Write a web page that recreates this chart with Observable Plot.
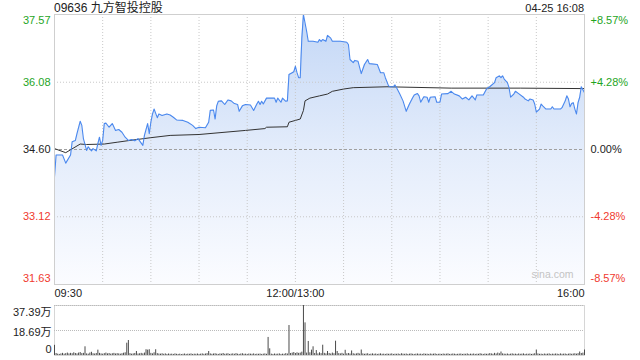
<!DOCTYPE html>
<html><head><meta charset="utf-8">
<script src="https://cdn.jsdelivr.net/npm/d3@7"></script>
<script src="https://cdn.jsdelivr.net/npm/@observablehq/plot@0.6"></script>
<style>
body{margin:0;background:#fff;font-family:"Liberation Sans",Arial,"Noto Sans CJK SC",sans-serif;}
#wrap{position:relative;width:640px;height:360px;overflow:hidden;background:#fff}
#title{position:absolute;left:54px;top:1px;font-size:12px;line-height:14px;color:#222;white-space:nowrap}
#date{position:absolute;right:56px;top:1px;font-size:11px;line-height:14px;color:#222;white-space:nowrap}
#main{position:absolute;left:0;top:0}
#vol{position:absolute;left:0;top:300px}
svg{font-family:"Liberation Sans",Arial,"Noto Sans CJK SC",sans-serif;}
</style></head>
<body>
<div id="wrap"><div id="main"></div><div id="vol"></div>
<div id="title">09636 九方智投控股</div><div id="date">04-25 16:08</div></div>
<script>
const stockTitle = "09636 九方智投控股";
const prevClose = 34.60;
const yTicks = [37.57, 36.08, 34.60, 33.12, 31.63];
const yTickLabels = ["37.57", "36.08", "34.60", "33.12", "31.63"];
const pctLabels = ["+8.57%", "+4.28%", "0.00%", "-4.28%", "-8.57%"];
const xTicks = [0, 150, 330];
const xTickLabels = ["09:30", "12:00/13:00", "16:00"];
const xGrid = [30, 60, 90, 120, 150, 180, 210, 240, 270, 300];
const volTicks = [37.39, 18.69, 0];
const volTickLabels = ["37.39万", "18.69万", "0"];

// [minute index, price]
const pricePoints = [
[0,34.00],[1,34.48],[5,34.48],[7,34.30],[10,34.48],[11,34.77],[13,34.80],[14,34.95],[16,35.22],[17,35.13],
[18,34.84],[20,34.58],[21,34.66],[23,34.57],[24,34.62],[26,34.57],[27,34.73],[28,34.87],[29,34.69],[30,34.80],
[31,35.17],[32,35.18],[34,35.09],[36,35.17],[38,35.02],[40,35.04],[42,34.98],[44,34.87],[46,34.80],[48,34.82],
[50,34.79],[52,34.84],[55,34.69],[56,34.91],[58,35.17],[59,34.95],[60,35.20],[61,35.38],[62,35.49],[64,35.30],
[65,35.38],[67,35.35],[70,35.38],[72,35.36],[74,35.31],[76,35.25],[80,35.24],[83,35.20],[86,35.13],[88,35.06],
[90,35.09],[94,35.08],[96,35.20],[97,35.46],[99,35.47],[100,35.27],[101,35.56],[102,35.66],[104,35.67],[106,35.59],
[108,35.69],[110,35.67],[112,35.61],[114,35.59],[115,35.44],[117,35.56],[119,35.59],[122,35.58],[124,35.46],[126,35.60],
[127,35.66],[128,35.59],[129,35.66],[130,35.60],[132,35.73],[137,35.73],[138,35.64],[139,35.73],[141,35.64],[142,35.73],
[144,35.66],[145,35.67],[146,36.25],[148,36.29],[149,36.31],[150,36.43],[151,36.29],[152,36.18],[153,36.18],[154,37.05],
[155,37.57],[157,37.20],[158,36.98],[161,36.98],[164,36.96],[165,37.02],[166,36.98],[167,37.02],[169,36.98],[170,37.11],
[172,37.05],[173,36.98],[178,36.98],[182,36.96],[183,36.91],[184,36.58],[186,36.51],[187,36.56],[189,36.54],[191,36.27],
[193,36.47],[195,36.58],[196,36.49],[201,36.47],[203,36.29],[205,36.29],[206,36.18],[208,36.00],[209,35.98],[211,35.98],
[212,36.02],[213,35.96],[215,35.82],[217,35.67],[219,35.44],[221,35.60],[223,35.74],[224,35.80],[226,35.83],[227,35.78],
[228,35.64],[230,35.76],[232,35.75],[233,35.64],[234,35.75],[237,35.76],[238,35.64],[240,35.64],[241,35.82],[245,35.83],
[247,35.88],[249,35.82],[252,35.78],[254,35.71],[256,35.75],[258,35.69],[260,35.78],[262,35.69],[263,35.80],[267,35.80],
[269,35.93],[271,35.98],[274,36.07],[275,36.18],[277,36.22],[278,36.18],[279,36.22],[280,36.15],[282,36.07],[283,35.96],
[284,35.75],[286,35.82],[287,35.88],[289,35.83],[292,35.75],[293,35.71],[295,35.67],[296,35.71],[298,35.69],[299,35.60],
[300,35.42],[302,35.49],[303,35.60],[304,35.56],[306,35.49],[309,35.49],[310,35.54],[311,35.49],[315,35.49],[316,35.52],
[318,35.67],[319,35.78],[320,35.71],[321,35.54],[322,35.61],[323,35.63],[324,35.49],[325,35.38],[326,35.63],[327,35.75],
[328,35.98],[330,35.85]
];

// [minute index, average price]
const avgPoints = [
[0,34.62],[7,34.53],[16,34.72],[20,34.71],[31,34.72],[39,34.76],[47,34.80],[60,34.86],[72,34.91],[90,34.93],
[119,35.02],[131,35.06],[132,35.09],[145,35.10],[146,35.20],[150,35.24],[153,35.27],[155,35.46],[156,35.67],[159,35.73],
[165,35.78],[170,35.82],[173,35.88],[180,35.93],[186,35.96],[207,35.98],[247,35.95],[290,35.95],[330,35.94]
];

// volume per minute, in 万
const volumes = [
7.6,1.5,1.0,0.8,1.2,1.6,1.0,1.4,1.8,1.2,1.6,1.3,2.0,1.5,1.2,1.8,2.2,1.4,1.6,6.5,1.2,1.0,1.8,2.4,1.3,1.1,1.5,4.0,1.6,1.2,
1.0,1.4,1.8,1.2,1.5,1.0,1.3,1.6,1.1,1.4,1.2,1.0,1.3,1.7,2.0,9.2,11.2,1.4,1.0,1.2,1.5,3.0,1.1,1.3,1.6,1.2,1.8,4.3,4.0,4.3,
1.6,1.2,2.0,4.3,1.4,1.1,1.0,1.3,0.9,1.2,0.8,1.1,0.9,1.0,0.8,1.2,0.9,0.8,1.0,0.7,0.9,1.1,0.8,1.0,0.9,1.2,0.8,1.0,0.9,1.1,
0.8,1.0,1.2,0.9,1.1,1.4,3.0,1.2,0.9,1.1,1.3,1.0,0.8,1.2,1.0,1.5,0.9,1.1,1.3,0.8,1.0,1.2,0.9,1.4,1.0,0.8,1.1,1.3,0.9,1.0,
0.8,1.1,1.0,0.9,1.2,0.8,1.0,0.9,1.1,0.8,1.0,1.2,0.9,13.5,5.0,1.0,0.8,1.1,0.9,1.0,1.2,0.8,1.0,0.9,1.4,1.1,22.4,1.5,1.8,2.2,
1.5,2.0,1.6,1.8,2.5,37.39,24.4,1.8,10.5,2.0,4.0,6.5,1.5,3.7,1.2,2.0,1.4,7.7,1.6,1.2,3.0,1.5,1.1,1.8,1.3,10.7,3.0,1.4,1.2,1.6,
1.0,3.9,1.2,1.5,1.1,3.4,1.3,1.0,1.2,1.6,1.1,4.1,1.2,0.9,1.1,1.3,0.8,1.0,1.2,0.9,1.1,0.8,1.0,1.2,0.9,1.0,0.8,1.1,0.9,1.0,
1.2,0.8,1.0,0.9,1.1,0.8,1.3,1.0,0.9,1.1,0.8,1.0,1.2,0.9,0.8,1.0,1.1,0.9,1.0,0.8,1.2,0.9,1.0,0.8,1.1,0.9,1.0,1.2,0.8,0.9,
1.0,0.8,1.1,0.9,1.0,1.2,0.8,0.9,1.1,1.0,0.8,0.9,1.0,1.1,0.8,1.0,0.9,1.2,0.8,1.0,0.9,1.1,0.8,1.0,0.9,1.3,1.0,0.8,1.1,0.9,
1.0,1.4,1.2,0.9,1.6,1.1,1.8,1.3,2.6,1.2,1.0,0.9,1.1,0.8,1.0,1.2,0.9,1.0,0.8,1.1,0.9,1.0,1.2,0.8,1.0,0.9,1.1,0.8,1.0,1.3,
4.1,1.2,0.9,1.0,0.8,1.1,0.9,1.0,1.2,0.8,1.0,0.9,1.1,1.0,0.8,1.2,0.9,1.0,1.1,0.8,1.0,1.2,0.9,1.1,1.3,1.0,1.4,2.6,1.5,1.8,4.1
];

const GREEN = "#1ea51e", RED = "#f03a2f", DARK = "#222";
const colorFor = v => Math.abs(v - prevClose) < 1e-6 ? DARK : (v > prevClose ? GREEN : RED);
const yMin = yTicks[yTicks.length - 1], yMax = yTicks[0];
const tickRows = yTicks.map((v, i) => ({v, label: yTickLabels[i], pct: pctLabels[i], i}));
const lastIdx = tickRows.length - 1;
const fs = 11;

function sideLabels(rows, dy) {
  return [
    Plot.text(rows, {x: () => 0, y: "v", text: "label", fill: d => colorFor(d.v), textAnchor: "end", dx: -4, dy, fontSize: fs}),
    Plot.text(rows, {x: () => 330, y: "v", text: "pct", fill: d => colorFor(d.v), textAnchor: "start", dx: 6, dy, fontSize: fs})
  ];
}

const main = Plot.plot({
  width: 640, height: 300,
  marginLeft: 54, marginRight: 56, marginTop: 14, marginBottom: 16,
  x: {domain: [0, 330], axis: null},
  y: {domain: [yMin, yMax], axis: null},
  style: {background: "transparent", overflow: "visible"},
  marks: [
    Plot.areaY(pricePoints, {x: d => d[0], y1: () => yMin, y2: d => d[1], fill: "url(#priceGrad)"}),
    Plot.ruleX(xGrid, {stroke: "#c8c8c8", strokeDasharray: "1,2"}),
    Plot.ruleY(yTicks.filter(v => v !== prevClose && v !== yMin && v !== yMax), {stroke: "#c8c8c8", strokeDasharray: "1,2"}),
    Plot.ruleY([prevClose], {stroke: "#a0a0a0", strokeDasharray: "3,2"}),
    Plot.line(avgPoints, {x: d => d[0], y: d => d[1], stroke: "#333", strokeWidth: 1}),
    Plot.line(pricePoints, {x: d => d[0], y: d => d[1], stroke: "#4a88ee", strokeWidth: 1.1}),
    Plot.frame({stroke: "#cfcfcf"}),
    ...sideLabels(tickRows.filter(d => d.i === 0), 6),
    ...sideLabels(tickRows.filter(d => d.i > 0 && d.i < lastIdx), 0),
    ...sideLabels(tickRows.filter(d => d.i === lastIdx), -6),
    Plot.text([xTicks[0]], {x: d => d, y: () => yMin, text: () => xTickLabels[0], textAnchor: "start", dy: 9, fill: DARK, fontSize: fs}),
    Plot.text([xTicks[1]], {x: d => d, y: () => yMin, text: () => xTickLabels[1], textAnchor: "middle", dy: 9, fill: DARK, fontSize: fs}),
    Plot.text([xTicks[2]], {x: d => d, y: () => yMin, text: () => xTickLabels[2], textAnchor: "end", dy: 9, fill: DARK, fontSize: fs}),
    Plot.text(["sina.com"], {frameAnchor: "bottom-right", text: d => d, textAnchor: "end", dx: -11, dy: -7, fill: "#c4c4c4", fontSize: 10.5})
  ]
});

const defs = d3.select(main).insert("defs", ":first-child");
const grad = defs.append("linearGradient").attr("id", "priceGrad").attr("x1", 0).attr("y1", 0).attr("x2", 0).attr("y2", 1);
grad.append("stop").attr("offset", 0).attr("stop-color", "#c3d7f6");
grad.append("stop").attr("offset", 0.5).attr("stop-color", "#e3ecfb");
grad.append("stop").attr("offset", 1).attr("stop-color", "#fbfcff");
document.getElementById("main").appendChild(main);

const volRows = volumes.map((v, i) => ({t: i, v}));
const vol = Plot.plot({
  width: 640, height: 60,
  marginLeft: 54, marginRight: 56, marginTop: 5, marginBottom: 5,
  x: {domain: [0, 330], axis: null},
  y: {domain: [0, volTicks[0]], axis: null},
  style: {background: "transparent", overflow: "visible"},
  marks: [
    Plot.frame({stroke: "#d6d6d6"}),
    Plot.ruleY([volTicks[0], volTicks[1]], {stroke: "#bbb", strokeDasharray: "1,1"}),
    Plot.ruleX(volRows, {x: "t", y1: () => 0, y2: "v", stroke: "#4a4a4a", strokeWidth: 1}),
    Plot.text([0], {x: () => 0, y: () => volTicks[0], text: () => volTickLabels[0], textAnchor: "end", dx: -3, dy: 7, fill: DARK, fontSize: fs}),
    Plot.text([0], {x: () => 0, y: () => volTicks[1], text: () => volTickLabels[1], textAnchor: "end", dx: -3, dy: 2, fill: DARK, fontSize: fs}),
    Plot.text([0], {x: () => 0, y: () => volTicks[2], text: () => volTickLabels[2], textAnchor: "end", dx: -3, dy: -6, fill: DARK, fontSize: fs})
  ]
});
document.getElementById("vol").appendChild(vol);
</script>
</body></html>
